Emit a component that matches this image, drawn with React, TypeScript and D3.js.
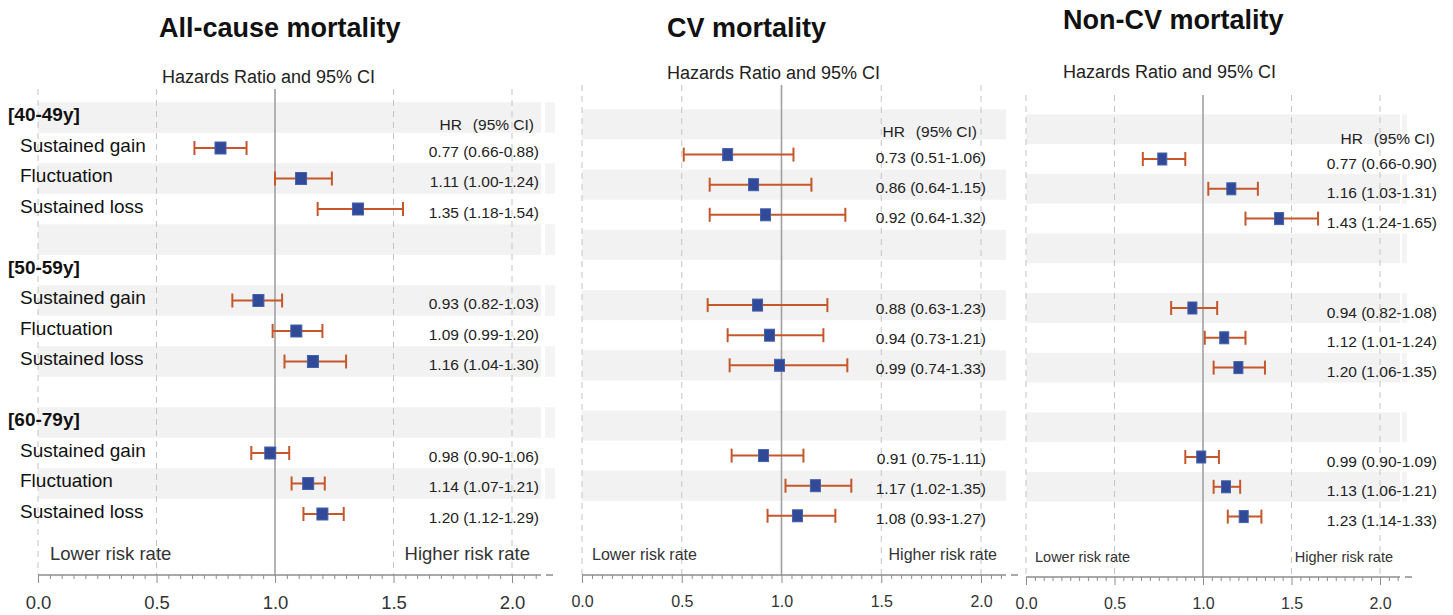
import React, { useEffect, useRef } from 'react';
import * as d3 from 'd3';

const groups = ["[40-49y]", "[50-59y]", "[60-79y]"];
const categories = ["Sustained gain", "Fluctuation", "Sustained loss"];
const xTicks = [0, 0.5, 1, 1.5, 2];
const xTickLabels = ["0.0", "0.5", "1.0", "1.5", "2.0"];

// hazard ratios, 3 age groups x 3 categories
const allCauseHR = [0.77, 1.11, 1.35, 0.93, 1.09, 1.16, 0.98, 1.14, 1.20];
const allCauseLo = [0.66, 1.00, 1.18, 0.82, 0.99, 1.04, 0.90, 1.07, 1.12];
const allCauseHi = [0.88, 1.24, 1.54, 1.03, 1.20, 1.30, 1.06, 1.21, 1.29];

const cvHR = [0.73, 0.86, 0.92, 0.88, 0.94, 0.99, 0.91, 1.17, 1.08];
const cvLo = [0.51, 0.64, 0.64, 0.63, 0.73, 0.74, 0.75, 1.02, 0.93];
const cvHi = [1.06, 1.15, 1.32, 1.23, 1.21, 1.33, 1.11, 1.35, 1.27];

const nonCvHR = [0.77, 1.16, 1.43, 0.94, 1.12, 1.20, 0.99, 1.13, 1.23];
const nonCvLo = [0.66, 1.03, 1.24, 0.82, 1.01, 1.06, 0.90, 1.06, 1.14];
const nonCvHi = [0.90, 1.31, 1.65, 1.08, 1.24, 1.35, 1.09, 1.21, 1.33];

const outcomes = [
    { title: "All-cause mortality", hr: allCauseHR, lo: allCauseLo, hi: allCauseHi },
    { title: "CV mortality", hr: cvHR, lo: cvLo, hi: cvHi },
    { title: "Non-CV mortality", hr: nonCvHR, lo: nonCvLo, hi: nonCvHi },
];

// layout of each panel (pixels)
const panels = [
    { x0: 38, x2: 512, row0: 117.5, step: 30.5, axisY: 575, gridTop: 89, bandEnd: 541, strip: [545, 555], textX: 539, headerX: 534, headerY: 124, titleX: 159, titleY: 37, subX: 162, subY: 83, dy: 3, markW: 11, small: 18.5, lowX: 50, highX: 530 },
    { x0: 582, x2: 981, row0: 124.5, step: 30.1, axisY: 575, gridTop: 85, bandEnd: 1006, strip: null, textX: 986, headerX: 977, headerY: 131, titleX: 667, titleY: 37, subX: 667, subY: 79, dy: 3, markW: 10, small: 16, lowX: 592, highX: 997 },
    { x0: 1026, x2: 1380, row0: 129.2, step: 29.8, axisY: 577, gridTop: 95, bandEnd: 1400, strip: [1402, 1407], textX: 1437, headerX: 1435, headerY: 138, titleX: 1063, titleY: 29, subX: 1063, subY: 78, dy: 4, markW: 9, small: 14.5, lowX: 1035, highX: 1393 },
];

const font = "Arial, 'Liberation Sans', sans-serif";

function App() {
    const ref = useRef<SVGSVGElement>(null);

    useEffect(() => {
        const svg = d3.select(ref.current);
        svg.selectAll("*").remove();

        panels.forEach((p, pi) => {
            const o = outcomes[pi];
            const x = d3.scaleLinear().domain([0, 2]).range([p.x0, p.x2]);
            const rowY = (i: number) => p.row0 + p.step * i;
            const g = svg.append("g");

            // alternating row bands
            d3.range(0, 13, 2).forEach(i => {
                g.append("rect")
                    .attr("x", p.x0).attr("y", rowY(i) - p.step / 2)
                    .attr("width", p.bandEnd - p.x0).attr("height", p.step)
                    .attr("fill", "#f2f2f2");
                if (p.strip) {
                    g.append("rect")
                        .attr("x", p.strip[0]).attr("y", rowY(i) - p.step / 2)
                        .attr("width", p.strip[1] - p.strip[0]).attr("height", p.step)
                        .attr("fill", "#f4f4f4");
                }
            });

            // grid lines
            xTicks.forEach(t => {
                g.append("line")
                    .attr("x1", x(t)).attr("x2", x(t))
                    .attr("y1", p.gridTop).attr("y2", p.axisY)
                    .attr("stroke", t === 1 ? "#a0a0a0" : "#c4c4c4")
                    .attr("stroke-width", t === 1 ? 1.6 : 1)
                    .attr("stroke-dasharray", t === 1 ? null : "6,5");
            });

            // axis: minor ticks, then major ticks with labels
            const axisEnd = x.invert(p.bandEnd);
            g.append("line")
                .attr("x1", x(0)).attr("x2", p.bandEnd)
                .attr("y1", p.axisY).attr("y2", p.axisY)
                .attr("stroke", "#8c8c8c").attr("stroke-width", 1.5);
            g.append("line")
                .attr("x1", p.bandEnd + 5).attr("x2", p.bandEnd + 12)
                .attr("y1", p.axisY).attr("y2", p.axisY)
                .attr("stroke", "#8c8c8c").attr("stroke-width", 1.5);

            const minor = d3.range(0, axisEnd, 0.05).filter(v => Math.abs(v * 2 - Math.round(v * 2)) > 0.01);
            g.append("g")
                .attr("transform", `translate(0,${p.axisY})`)
                .call(d3.axisBottom(x).tickValues(minor).tickSize(4).tickFormat(() => ""))
                .call(s => s.select(".domain").remove())
                .call(s => s.selectAll("line").attr("stroke", "#8c8c8c"));

            g.append("g")
                .attr("transform", `translate(0,${p.axisY})`)
                .call(d3.axisBottom(x).tickValues(xTicks).tickSize(8).tickPadding(13)
                    .tickFormat((d, i) => xTickLabels[i]))
                .call(s => s.select(".domain").remove())
                .call(s => s.selectAll("line").attr("stroke", "#8c8c8c"))
                .call(s => s.selectAll("text")
                    .attr("font-family", font)
                    .attr("font-size", Math.max(p.small, 16))
                    .attr("fill", "#333"));

            g.append("text")
                .attr("x", p.lowX).attr("y", p.axisY - 15)
                .attr("font-family", font).attr("font-size", p.small).attr("fill", "#333")
                .text("Lower risk rate");
            g.append("text")
                .attr("x", p.highX).attr("y", p.axisY - 15)
                .attr("text-anchor", "end")
                .attr("font-family", font).attr("font-size", p.small).attr("fill", "#333")
                .text("Higher risk rate");

            // titles
            g.append("text")
                .attr("x", p.titleX).attr("y", p.titleY)
                .attr("font-family", font).attr("font-size", 27).attr("font-weight", "bold")
                .attr("fill", "#111")
                .text(o.title);
            g.append("text")
                .attr("x", p.subX).attr("y", p.subY)
                .attr("font-family", font).attr("font-size", 18).attr("fill", "#222")
                .text("Hazards Ratio and 95% CI");

            // column header
            g.append("text")
                .attr("x", p.headerX).attr("y", p.headerY)
                .attr("text-anchor", "end").attr("dominant-baseline", "central")
                .attr("font-family", font).attr("font-size", 15.5).attr("fill", "#222")
                .text("(95% CI)");
            g.append("text")
                .attr("x", p.headerX - 72).attr("y", p.headerY)
                .attr("text-anchor", "end").attr("dominant-baseline", "central")
                .attr("font-family", font).attr("font-size", 15.5).attr("fill", "#222")
                .text("HR");

            // row labels only on the first panel
            if (pi === 0) {
                groups.forEach((gr, gi) => {
                    g.append("text")
                        .attr("x", 8).attr("y", rowY(gi * 5) - 3)
                        .attr("dominant-baseline", "central")
                        .attr("font-family", font).attr("font-size", 19).attr("font-weight", "bold")
                        .attr("fill", "#111")
                        .text(gr);
                    categories.forEach((c, ci) => {
                        g.append("text")
                            .attr("x", 20).attr("y", rowY(gi * 5 + ci + 1) - 3)
                            .attr("dominant-baseline", "central")
                            .attr("font-family", font).attr("font-size", 19)
                            .attr("fill", "#111")
                            .text(c);
                    });
                });
            }

            // error bars, markers and values
            const pts = o.hr.map((hr, i) => ({
                hr, lo: o.lo[i], hi: o.hi[i],
                row: Math.floor(i / 3) * 5 + (i % 3) + 1,
            }));
            const color = "#c5572a";
            const cap = 7;
            pts.forEach(d => {
                const y = rowY(d.row);
                g.append("line")
                    .attr("x1", x(d.lo)).attr("x2", x(d.hi))
                    .attr("y1", y).attr("y2", y)
                    .attr("stroke", color).attr("stroke-width", 2);
                [d.lo, d.hi].forEach(v => {
                    g.append("line")
                        .attr("x1", x(v)).attr("x2", x(v))
                        .attr("y1", y - cap).attr("y2", y + cap)
                        .attr("stroke", color).attr("stroke-width", 2);
                });
                g.append("rect")
                    .attr("x", x(d.hr) - p.markW / 2).attr("y", y - 6)
                    .attr("width", p.markW).attr("height", 12)
                    .attr("fill", "#304a97").attr("stroke", "#4560ad").attr("stroke-width", 1);
                g.append("text")
                    .attr("x", p.textX).attr("y", y + p.dy)
                    .attr("text-anchor", "end").attr("dominant-baseline", "central")
                    .attr("font-family", font).attr("font-size", 15.5).attr("fill", "#222")
                    .text(`${d.hr.toFixed(2)} (${d.lo.toFixed(2)}-${d.hi.toFixed(2)})`);
            });
        });
    }, []);

    return (
        <svg ref={ref} width={1453} height={615}
            style={{ position: 'absolute', left: 0, top: 0, background: '#fff' }} />
    );
}

export default App;
